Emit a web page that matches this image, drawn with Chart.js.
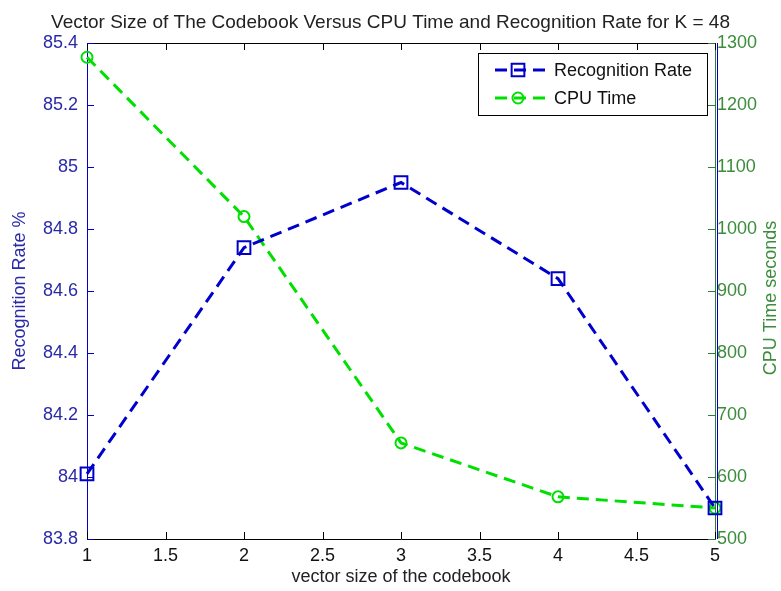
<!DOCTYPE html>
<html lang="en">
<head>
    <meta charset="UTF-8">
    <title>Vector Size vs CPU Time and Recognition Rate</title>
    <script src="https://cdn.jsdelivr.net/npm/chart.js"></script>
    <style>
        body { margin: 0; background: #fff; }
        canvas { display: block; }
    </style>
</head>
<body>
    <canvas id="chart" width="781" height="591"></canvas>

    <script>
        // data
        let vectorSizes = [1, 2, 3, 4, 5];
        let recognitionRate = [84.01, 84.74, 84.95, 84.64, 83.90];
        let cpuTime = [1277, 1020, 655, 568, 550];

        let xTicks = [1, 1.5, 2, 2.5, 3, 3.5, 4, 4.5, 5];
        let rateTicks = [83.8, 84, 84.2, 84.4, 84.6, 84.8, 85, 85.2, 85.4];
        let cpuTicks = [500, 600, 700, 800, 900, 1000, 1100, 1200, 1300];

        const FONT = "'Liberation Sans', Arial, sans-serif";
        const BLUE = '#0000cc';
        const GREEN = '#00e000';
        const BLUE_TXT = '#2a2aa8';
        const GREEN_TXT = '#3c8c3c';
        const GREEN_AXIS = '#2e7d32';

        function useTicks(list) {
            return scale => { scale.ticks = list.map(v => ({ value: v })); };
        }
        const fmt = v => String(+(+v).toFixed(2));

        // MATLAB style inward ticks, top box line, legend and right title
        const matlabBits = {
            id: 'matlabBits',
            afterDraw(chart) {
                const { ctx, chartArea: a, scales } = chart;
                const len = 7;
                ctx.save();
                ctx.lineWidth = 1;

                // top line
                ctx.strokeStyle = '#000';
                ctx.beginPath();
                ctx.moveTo(a.left, a.top + 0.5);
                ctx.lineTo(a.right, a.top + 0.5);
                ctx.stroke();
                // extra blue line on the right
                ctx.strokeStyle = BLUE;
                ctx.beginPath();
                ctx.moveTo(a.right + 2.5, a.top);
                ctx.lineTo(a.right + 2.5, a.bottom);
                ctx.stroke();

                ctx.strokeStyle = '#000';
                ctx.beginPath();
                xTicks.forEach(v => {
                    const px = Math.round(scales.x.getPixelForValue(v)) + 0.5;
                    ctx.moveTo(px, a.bottom);
                    ctx.lineTo(px, a.bottom - len);
                    ctx.moveTo(px, a.top);
                    ctx.lineTo(px, a.top + len);
                });
                ctx.stroke();

                ctx.strokeStyle = BLUE;
                ctx.beginPath();
                rateTicks.forEach(v => {
                    const py = Math.round(scales.y.getPixelForValue(v)) + 0.5;
                    ctx.moveTo(a.left, py);
                    ctx.lineTo(a.left + len, py);
                });
                ctx.stroke();

                ctx.strokeStyle = GREEN_AXIS;
                ctx.beginPath();
                cpuTicks.forEach(v => {
                    const py = Math.round(scales.y2.getPixelForValue(v)) + 0.5;
                    ctx.moveTo(a.right, py);
                    ctx.lineTo(a.right - len, py);
                });
                ctx.stroke();

                // right axis title, reading bottom to top
                ctx.fillStyle = GREEN_TXT;
                ctx.font = '18px ' + FONT;
                ctx.textAlign = 'center';
                ctx.textBaseline = 'middle';
                ctx.translate(771, (a.top + a.bottom) / 2 + 7);
                ctx.rotate(-Math.PI / 2);
                ctx.fillText('CPU Time seconds', 0, 0);
                ctx.restore();

                // legend box
                ctx.save();
                const bx = a.right - 237, by = a.top + 10, bw = 229, bh = 62;
                ctx.fillStyle = '#fff';
                ctx.fillRect(bx, by, bw, bh);
                ctx.strokeStyle = '#000';
                ctx.lineWidth = 1;
                ctx.strokeRect(bx + 0.5, by + 0.5, bw, bh);
                chart.data.datasets.forEach((ds, i) => {
                    const ly = by + 17 + i * 28;
                    ctx.strokeStyle = ds.borderColor;
                    ctx.lineWidth = ds.borderWidth;
                    ctx.setLineDash(ds.borderDash);
                    ctx.beginPath();
                    ctx.moveTo(bx + 17, ly);
                    ctx.lineTo(bx + 70, ly);
                    ctx.stroke();
                    ctx.setLineDash([]);
                    ctx.lineWidth = ds.pointBorderWidth;
                    ctx.fillStyle = 'rgba(0,0,0,0)';
                    Chart.helpers.drawPoint(ctx, {
                        pointStyle: ds.pointStyle,
                        radius: ds.pointRadius,
                        rotation: 0,
                        borderWidth: ds.pointBorderWidth
                    }, bx + 40, ly);
                    ctx.fillStyle = '#111';
                    ctx.font = '18px ' + FONT;
                    ctx.textAlign = 'left';
                    ctx.textBaseline = 'middle';
                    ctx.fillText(ds.label, bx + 76, ly + 1);
                });
                ctx.restore();
            }
        };

        new Chart(document.getElementById('chart'), {
            type: 'line',
            data: {
                labels: vectorSizes,
                datasets: [{
                    label: 'Recognition Rate',
                    data: vectorSizes.map((x, i) => ({ x: x, y: recognitionRate[i] })),
                    yAxisID: 'y',
                    borderColor: BLUE,
                    borderWidth: 3,
                    borderDash: [12, 7],
                    pointStyle: 'rect',
                    pointRadius: 9,
                    pointBorderWidth: 2,
                    pointBorderColor: BLUE,
                    pointBackgroundColor: 'rgba(0,0,0,0)',
                    fill: false,
                    clip: false
                }, {
                    label: 'CPU Time',
                    data: vectorSizes.map((x, i) => ({ x: x, y: cpuTime[i] })),
                    yAxisID: 'y2',
                    borderColor: GREEN,
                    borderWidth: 3,
                    borderDash: [12, 7],
                    pointStyle: 'circle',
                    pointRadius: 5.5,
                    pointBorderWidth: 2,
                    pointBorderColor: GREEN,
                    pointBackgroundColor: 'rgba(0,0,0,0)',
                    fill: false,
                    clip: false
                }]
            },
            options: {
                responsive: false,
                animation: false,
                layout: { padding: 0 },
                plugins: {
                    legend: { display: false },
                    tooltip: { enabled: false },
                    title: {
                        display: true,
                        text: 'Vector Size of The Codebook Versus CPU Time and Recognition Rate for K = 48',
                        color: '#222',
                        font: { family: FONT, size: 19, weight: 'normal', lineHeight: 1.2 },
                        padding: { top: 11, bottom: 9.2 }
                    }
                },
                scales: {
                    x: {
                        type: 'linear',
                        min: 1, max: 5,
                        afterBuildTicks: useTicks(xTicks),
                        afterFit: s => { s.height = 52; },
                        grid: { drawOnChartArea: false, drawTicks: false },
                        border: { color: '#000', width: 1 },
                        ticks: { color: '#111', padding: 6, font: { family: FONT, size: 18 }, callback: fmt, maxRotation: 0, autoSkip: false },
                        title: { display: true, text: 'vector size of the codebook', color: '#222', font: { family: FONT, size: 18 }, padding: { top: 0, bottom: 3 } }
                    },
                    y: {
                        position: 'left',
                        min: 83.8, max: 85.4,
                        afterBuildTicks: useTicks(rateTicks),
                        afterFit: s => { s.width = 87; },
                        grid: { drawOnChartArea: false, drawTicks: false },
                        border: { color: BLUE, width: 1 },
                        ticks: { color: BLUE_TXT, padding: 9, font: { family: FONT, size: 18 }, callback: fmt, autoSkip: false },
                        title: { display: true, text: 'Recognition Rate %', color: BLUE_TXT, font: { family: FONT, size: 18 }, padding: { top: 9, bottom: 0 } }
                    },
                    y2: {
                        position: 'right',
                        min: 500, max: 1300,
                        afterBuildTicks: useTicks(cpuTicks),
                        afterFit: s => { s.width = 66; },
                        grid: { drawOnChartArea: false, drawTicks: false },
                        border: { color: GREEN_AXIS, width: 1 },
                        ticks: { color: GREEN_TXT, padding: 2, font: { family: FONT, size: 18 }, callback: fmt, autoSkip: false }
                    }
                }
            },
            plugins: [matlabBits]
        });
    </script>
</body>
</html>
